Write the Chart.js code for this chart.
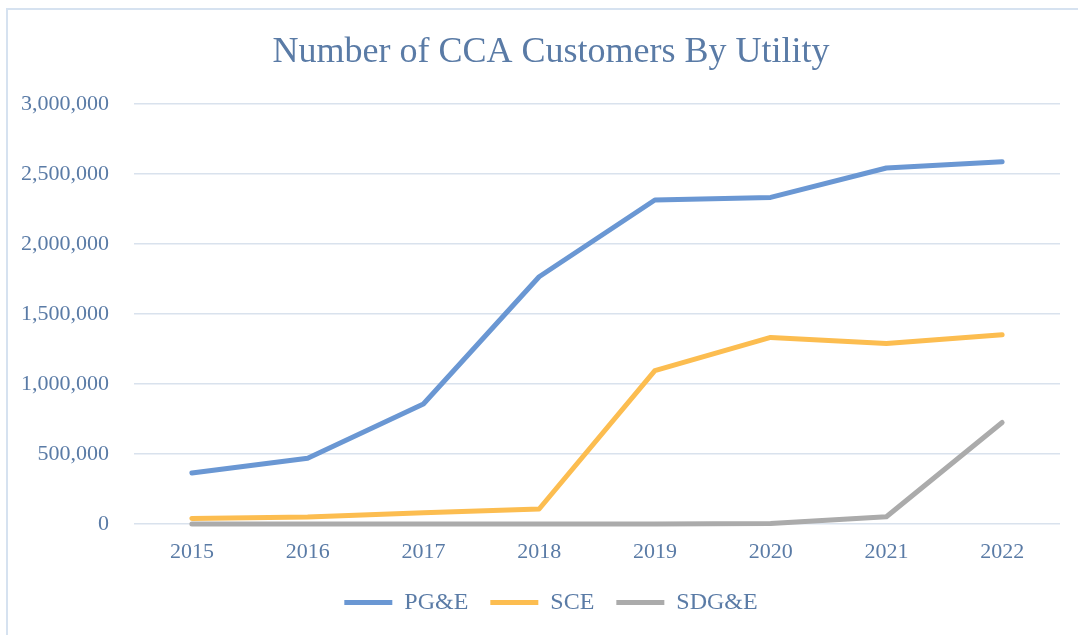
<!DOCTYPE html>
<html>
<head>
<meta charset="utf-8">
<script src="https://cdn.jsdelivr.net/npm/chart.js@4/dist/chart.umd.min.js"></script>
<style>
  html, body { margin: 0; padding: 0; background: #ffffff; overflow: hidden; width: 1078px; height: 635px; }
  #wrap { position: absolute; left: 6px; top: 8px; width: 1086px; height: 630px;
          border-left: 2px solid #d6e2f0; border-top: 2px solid #d6e2f0; }
  canvas { display: block; }
</style>
</head>
<body>
<div id="wrap"><canvas id="c"></canvas></div>
<script>
const years = ['2015', '2016', '2017', '2018', '2019', '2020', '2021', '2022'];
const pge   = [364000, 469000, 857000, 1766000, 2314000, 2333000, 2543000, 2588000];
const sce   = [40000, 50000, 81000, 107000, 1095000, 1333000, 1290000, 1352000];
const sdge  = [0, 0, 0, 0, 0, 3000, 52000, 725000];
const seriesNames = ['PG&E', 'SCE', 'SDG&E'];
const yTickMax = 3000000;
const yTickStep = 500000;

const textColor = '#5a7ba6';
const fontFamily = "'Liberation Serif', 'DejaVu Serif', serif";

function lineDs(label, data, color) {
  return {
    label, data,
    borderColor: color, backgroundColor: color,
    borderWidth: 5, borderCapStyle: 'round', borderJoinStyle: 'round',
    pointRadius: 0, pointHoverRadius: 0, tension: 0, fill: false, clip: false
  };
}

new Chart(document.getElementById('c'), {
  type: 'line',
  data: {
    labels: years,
    datasets: [
      lineDs(seriesNames[0], pge, '#6a97d3'),
      lineDs(seriesNames[1], sce, '#fcbd50'),
      lineDs(seriesNames[2], sdge, '#ababab')
    ]
  },
  options: {
    responsive: true,
    maintainAspectRatio: false,
    animation: false,
    layout: { padding: { left: 0, right: 0, top: 0, bottom: 15.5 } },
    plugins: {
      title: {
        display: true,
        text: 'Number of CCA Customers By Utility',
        color: textColor,
        font: { family: fontFamily, size: 36, weight: 'normal' },
        padding: { top: 21, bottom: 29.8 }
      },
      legend: {
        position: 'bottom',
        labels: {
          usePointStyle: true,
          pointStyle: 'line',
          pointStyleWidth: 48,
          color: textColor,
          font: { family: fontFamily, size: 24 },
          padding: 22
        }
      },
      tooltip: { enabled: false }
    },
    scales: {
      x: {
        offset: true,
        grid: { display: false, drawTicks: false },
        border: { display: false },
        ticks: { color: textColor, font: { family: fontFamily, size: 22 }, padding: 15, maxRotation: 0 },
        afterFit: (s) => { s.height = 44.5; }
      },
      y: {
        min: 0, max: yTickMax,
        grid: { color: '#d9e2ed', lineWidth: 1.5, drawTicks: false },
        border: { display: false },
        ticks: {
          stepSize: yTickStep,
          color: textColor,
          font: { family: fontFamily, size: 22 },
          padding: 25,
          callback: (v) => Number(v).toLocaleString('en-US')
        },
        afterFit: (s) => { s.width = 126; }
      },
      yRightSpace: {
        position: 'right',
        min: 0, max: 1,
        grid: { display: false, drawTicks: false },
        border: { display: false },
        ticks: { display: false },
        afterFit: (s) => { s.width = 34; }
      }
    }
  }
});
</script>
</body>
</html>
